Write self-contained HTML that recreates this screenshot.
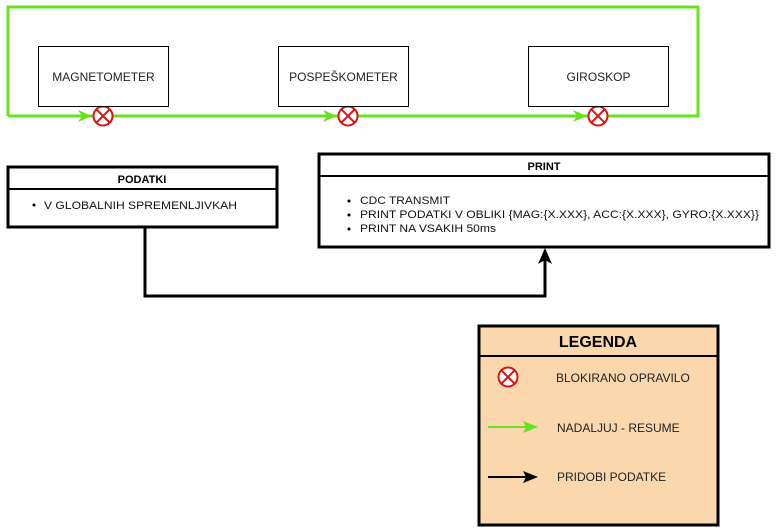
<!DOCTYPE html>
<html><head><meta charset="utf-8"><style>
body{margin:0;background:#fff;}
svg{display:block;font-family:"Liberation Sans",sans-serif;}
</style></head><body>
<svg width="779" height="528" viewBox="0 0 779 528">
<!-- green loop -->
<path d="M8,116 L8,7 L698,7 L698,116 L8,116" fill="none" stroke="#66e31c" stroke-width="3"/>
<g fill="#66e31c">
<path d="M78,110 L92,116 L78,122 L82,116Z"/>
<path d="M323,110 L337,116 L323,122 L327,116Z"/>
<path d="M573,110 L587,116 L573,122 L577,116Z"/>
</g>
<g stroke="#dd1111" stroke-width="2" fill="#fff">
<circle cx="103" cy="116" r="9.5"/><path d="M96.3,109.3L109.7,122.7M109.7,109.3L96.3,122.7"/>
<circle cx="348" cy="116" r="9.5"/><path d="M341.3,109.3L354.7,122.7M354.7,109.3L341.3,122.7"/>
<circle cx="598" cy="116" r="9.5"/><path d="M591.3,109.3L604.7,122.7M604.7,109.3L591.3,122.7"/>
</g>
<g fill="#fff" stroke="#000" stroke-width="1">
<rect x="38.5" y="46.5" width="130" height="60"/>
<rect x="278.5" y="46.5" width="130" height="60"/>
<rect x="528.5" y="46.5" width="140" height="60"/>
</g>
<g font-size="12" fill="#222" text-anchor="middle">
<text x="103.5" y="81">MAGNETOMETER</text>
<text x="343.5" y="81">POSPEŠKOMETER</text>
<text x="598.5" y="81">GIROSKOP</text>
</g>
<!-- black connector -->
<path d="M145,227 L145,296 L545,296 L545,258" fill="none" stroke="#000" stroke-width="3"/>
<path d="M538,264 L545,248 L552,264 L545,260Z" fill="#000"/>
<!-- PODATKI -->
<rect x="8" y="167" width="269" height="60" fill="#fff" stroke="#000" stroke-width="3"/>
<line x1="8" y1="189" x2="277" y2="189" stroke="#000" stroke-width="2"/>
<text x="142" y="183" font-size="11" font-weight="bold" text-anchor="middle" fill="#000">PODATKI</text>
<circle cx="34" cy="205" r="1.5" fill="#000"/>
<text x="44" y="209" font-size="11" fill="#111" textLength="193" lengthAdjust="spacingAndGlyphs">V GLOBALNIH SPREMENLJIVKAH</text>
<!-- PRINT -->
<rect x="319" y="154" width="450" height="93" fill="#fff" stroke="#000" stroke-width="3"/>
<line x1="319" y1="176" x2="769" y2="176" stroke="#000" stroke-width="2"/>
<text x="544" y="170" font-size="11" font-weight="bold" text-anchor="middle" fill="#000">PRINT</text>
<g fill="#000"><circle cx="349" cy="201" r="1.5"/><circle cx="349" cy="215" r="1.5"/><circle cx="349" cy="229" r="1.5"/></g>
<g font-size="11" fill="#111">
<text x="360" y="204" textLength="90" lengthAdjust="spacingAndGlyphs">CDC TRANSMIT</text>
<text x="360" y="218" textLength="399" lengthAdjust="spacingAndGlyphs">PRINT PODATKI V OBLIKI {MAG:{X.XXX}, ACC:{X.XXX}, GYRO:{X.XXX}}</text>
<text x="360" y="232" textLength="136" lengthAdjust="spacingAndGlyphs">PRINT NA VSAKIH 50ms</text>
</g>
<!-- legend -->
<rect x="479" y="326" width="239" height="199" fill="#fad7ac" stroke="#000" stroke-width="3"/>
<line x1="479" y1="356" x2="718" y2="356" stroke="#000" stroke-width="2"/>
<text x="598" y="347" font-size="16" font-weight="bold" text-anchor="middle" fill="#000">LEGENDA</text>
<g stroke="#dd1111" stroke-width="2" fill="#fff">
<circle cx="508" cy="377" r="9.5"/><path d="M501.3,370.3L514.7,383.7M514.7,370.3L501.3,383.7"/>
</g>
<line x1="488" y1="427" x2="528" y2="427" stroke="#66e31c" stroke-width="2"/>
<path d="M523,421 L538,427 L523,433 L526,427Z" fill="#66e31c"/>
<line x1="488" y1="477" x2="528" y2="477" stroke="#000" stroke-width="2"/>
<path d="M523,471 L538,477 L523,483 L526,477Z" fill="#000"/>
<g font-size="12" fill="#222">
<text x="556" y="382">BLOKIRANO OPRAVILO</text>
<text x="557" y="432">NADALJUJ - RESUME</text>
<text x="557" y="481">PRIDOBI PODATKE</text>
</g>
</svg>
</body></html>
